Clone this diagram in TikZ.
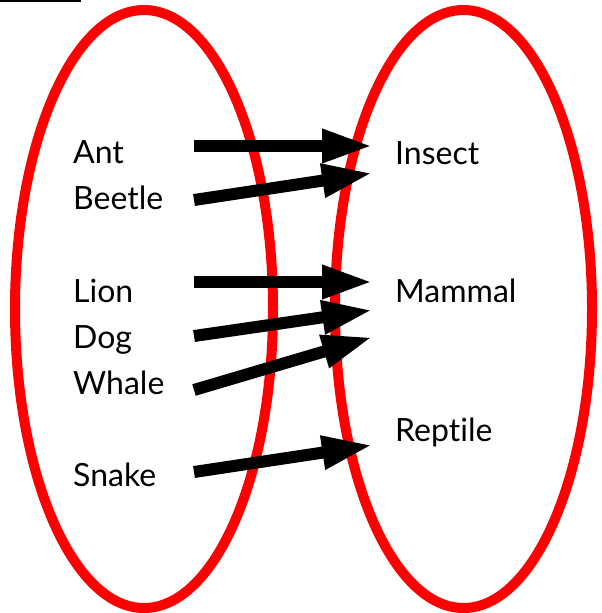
\documentclass[tikz,border=0pt]{standalone}
\usepackage{fontspec}
\setmainfont{Lato}[Ligatures={NoCommon,NoRare,NoContextual}]
\usetikzlibrary{arrows.meta}
\tikzset{
  setring/.style={draw=red, line width=10pt},
  maparrow/.style={draw=black, line width=12pt, -{Triangle[length=51pt,width=31pt]}},
  lbl/.style={anchor=base west, inner sep=0pt, font=\fontsize{32}{38}\selectfont}
}
\begin{document}
\begin{tikzpicture}[x=1pt,y=-1pt]
\useasboundingbox (0,0) rectangle (602,613);
\fill[white] (0,0) rectangle (602,613);
\draw[black, line width=2.5pt] (0,1) -- (81,1);
\draw[setring] (144,309) ellipse [x radius=129, y radius=299];
\draw[setring] (463.5,309) ellipse [x radius=128.5, y radius=299];
% domain labels
\node[lbl] (ant) at (73,163) {Ant};
\node[lbl] (beetle) at (73,209) {Beetle};
\node[lbl] (lion) at (73,302) {Lion};
\node[lbl] (dog) at (73,348) {Dog};
\node[lbl] (whale) at (73,394) {Whale};
\node[lbl] (snake) at (73,486) {Snake};
% codomain labels
\node[lbl] (insect) at (395,164) {Insect};
\node[lbl] (mammal) at (395,302) {Mammal};
\node[lbl] (reptile) at (395,441) {Reptile};
% arrow ends
\coordinate (a1) at (194,146); \coordinate (b1) at (373,146);
\coordinate (a2) at (194,200); \coordinate (b2) at (373,173);
\coordinate (a3) at (194,282); \coordinate (b3) at (373,282);
\coordinate (a4) at (194,336); \coordinate (b4) at (373,310);
\coordinate (a5) at (194,390); \coordinate (b5) at (373,337);
\coordinate (a6) at (194,472); \coordinate (b6) at (373,445);
\draw[maparrow] (a1) -- (b1);
\draw[maparrow] (a2) -- (b2);
\draw[maparrow] (a3) -- (b3);
\draw[maparrow] (a4) -- (b4);
\draw[maparrow] (a5) -- (b5);
\draw[maparrow] (a6) -- (b6);
\end{tikzpicture}
\end{document}
